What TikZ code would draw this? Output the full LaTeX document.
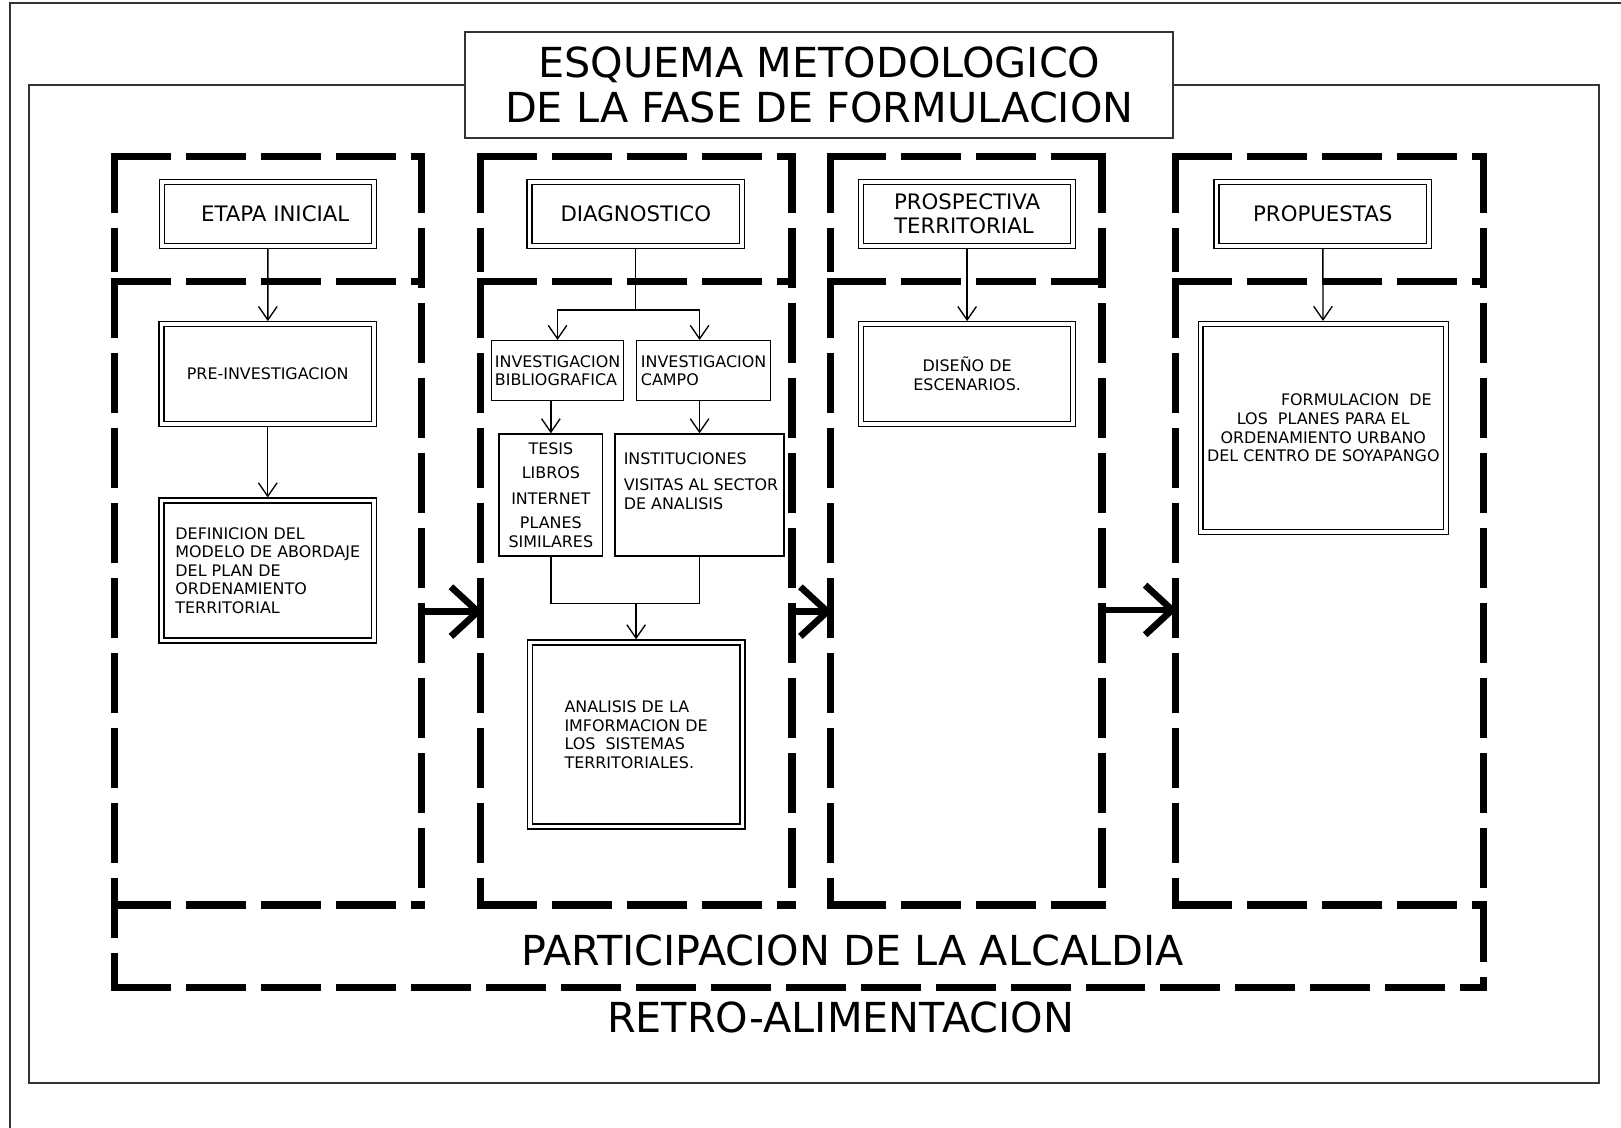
\documentclass[tikz,border=0pt]{standalone}
\usepackage{fontspec}
\setmainfont{DejaVu Sans}
\usetikzlibrary{arrows.meta}
\begin{document}
\begin{tikzpicture}[x=0.5pt, y=-0.5pt,
  dbox/.style={draw, double, line width=0.65pt, double distance=1.75pt, outer sep=1.5pt, inner sep=1pt, align=center, minimum width=102.7pt, font=\fontsize{7.7}{9}\selectfont},
  headbox/.style={dbox, minimum height=31pt, font=\fontsize{10.3}{12}\selectfont},
  sbox/.style={draw, line width=0.65pt, inner sep=1pt, align=left, font=\fontsize{7.7}{9}\selectfont},
  small/.style={inner sep=0pt, align=left, font=\fontsize{7.7}{9}\selectfont},
  big/.style={inner sep=0pt, font=\fontsize{20}{21.7}\selectfont},
  dashline/.style={line width=3.5pt, line cap=rect, dash pattern=on 25.5pt off 10.75pt},
  link/.style={line width=0.65pt, -{Straight Barb[length=6.5pt,width=9pt]}},
  fatarrow/.style={line width=3.25pt, -{Straight Barb[length=13pt,width=24pt]}},
  frame/.style={line width=0.9pt, black!80}]
\useasboundingbox (0,0) rectangle (1568,1091);
% title and frame
\node[draw, frame, big, text=black, align=center, minimum width=342.5pt, minimum height=51.6pt] (title) at (792.5,82.2) {ESQUEMA METODOLOGICO\\DE LA FASE DE FORMULACION};
\draw[frame] (10,1091) -- (10,3) -- (1568,3);
\draw[frame] (title.west) -- (28,82.2) -- (28,1047.3) -- (1547,1047.3) -- (1547,82.2) -- (title.east);
% dashed columns
\draw[dashline] (111,151.5) -- (408,151.5);
\draw[dashline] (111,151.5) -- (111,260);
\draw[dashline] (408,151.5) -- (408,875.3);
\draw[dashline] (111,272.4) -- (408,272.4);
\draw[dashline] (111,272.4) -- (111,955);
\draw[dashline] (111,875.3) -- (408,875.3);
\draw[dashline] (465,151.5) -- (766,151.5);
\draw[dashline] (465,151.5) -- (465,260);
\draw[dashline] (766,151.5) -- (766,875.3);
\draw[dashline] (465,272.4) -- (766,272.4);
\draw[dashline] (465,272.4) -- (465,875.3);
\draw[dashline] (465,875.3) -- (766,875.3);
\draw[dashline] (803,151.5) -- (1066,151.5);
\draw[dashline] (803,151.5) -- (803,260);
\draw[dashline] (1066,151.5) -- (1066,875.3);
\draw[dashline] (803,272.4) -- (1066,272.4);
\draw[dashline] (803,272.4) -- (803,875.3);
\draw[dashline] (803,875.3) -- (1066,875.3);
\draw[dashline] (1137,151.5) -- (1435,151.5);
\draw[dashline] (1137,151.5) -- (1137,260);
\draw[dashline] (1435,151.5) -- (1435,955);
\draw[dashline] (1137,272.4) -- (1435,272.4);
\draw[dashline] (1137,272.4) -- (1137,875.3);
\draw[dashline] (1137,875.3) -- (1435,875.3);
\draw[dashline] (111,955) -- (1435,955);
% etapa inicial
\node[headbox] (etapa) at (259.2,206.8) {\hspace*{7pt}ETAPA INICIAL};
\node[dbox, minimum height=48.15pt] (pre) at (259,361.75) {PRE-INVESTIGACION};
\node[dbox, align=left, minimum height=67.7pt] (def) at (259,551.9) {DEFINICION DEL\\MODELO DE ABORDAJE\\DEL PLAN DE\\ORDENAMIENTO\\TERRITORIAL};
\draw[link] (etapa) -- (pre);
\draw[link] (pre) -- (def);
% diagnostico
\node[headbox] (diag) at (615,206.8) {DIAGNOSTICO};
\node[sbox, minimum width=63.7pt, minimum height=29.05pt] (biblio) at (539.3,358.55) {INVESTIGACION\\BIBLIOGRAFICA};
\node[sbox, minimum width=64.8pt, minimum height=29.05pt] (campo) at (680.6,358.55) {INVESTIGACION\\CAMPO};
\node[sbox, align=center, minimum width=50.15pt, minimum height=59pt] (tesis) at (532.85,478.8) {TESIS\\[2.6pt]LIBROS\\[3.7pt]INTERNET\\[2.7pt]PLANES\\SIMILARES};
\node[sbox, minimum width=81.7pt, minimum height=59pt] (instit) at (676.7,478.8) {};
\node[small, anchor=north west] (institxt) at ([xshift=4.3pt,yshift=-9.1pt]instit.north west) {INSTITUCIONES\\[3.6pt]VISITAS AL SECTOR\\DE ANALISIS};
\node[dbox, align=left, minimum width=102.9pt, minimum height=89.1pt] (analisis) at (615.3,710.5) {ANALISIS DE LA\\IMFORMACION DE\\LOS\ \ SISTEMAS\\TERRITORIALES.};
\coordinate (fork) at (615,300);
\coordinate (merge) at (615.3,583.6);
\draw[line width=0.65pt] (diag) -- (fork);
\draw[link] (fork) -| (biblio);
\draw[link] (fork) -| (campo.north -| instit.north);
\draw[link] (biblio.south -| tesis.north) -- (tesis.north);
\draw[link] (campo.south -| instit.north) -- (instit.north);
\draw[line width=0.65pt] (tesis.south) |- (merge) -| (instit.south);
\draw[link] (merge) -- (analisis);
% prospectiva territorial
\node[headbox, align=left] (prosp) at (935.5,206.8) {PROSPECTIVA\\TERRITORIAL};
\node[dbox, minimum height=48.15pt] (diseno) at (935.5,361.75) {DISEÑO DE\\ESCENARIOS.};
\draw[link] (prosp) -- (diseno);
% propuestas
\node[headbox] (prop) at (1279.5,206.8) {PROPUESTAS};
\node[dbox, minimum width=118.6pt, minimum height=100.6pt] (formul) at (1280,414) {\hspace*{32pt}FORMULACION\ \ DE\\LOS\ \ PLANES PARA EL\\ORDENAMIENTO URBANO\\DEL CENTRO DE SOYAPANGO};
\draw[link] (prop) -- (formul);
% phase arrows
\coordinate (a1) at (408,591.6);
\coordinate (b1) at (467,591.6);
\coordinate (a2) at (766,591.6);
\coordinate (b2) at (805,591.6);
\coordinate (a3) at (1066,590);
\coordinate (b3) at (1138.5,590);
\draw[fatarrow] (a1) -- (b1);
\draw[fatarrow] (a2) -- (b2);
\draw[fatarrow] (a3) -- (b3);
% bottom labels
\node[big, anchor=base west] (alcaldia) at (503.6,934.4) {PARTICIPACION DE LA ALCALDIA};
\node[big, anchor=base west] (retro) at (586.8,999) {RETRO-ALIMENTACION};
\end{tikzpicture}
\end{document}
